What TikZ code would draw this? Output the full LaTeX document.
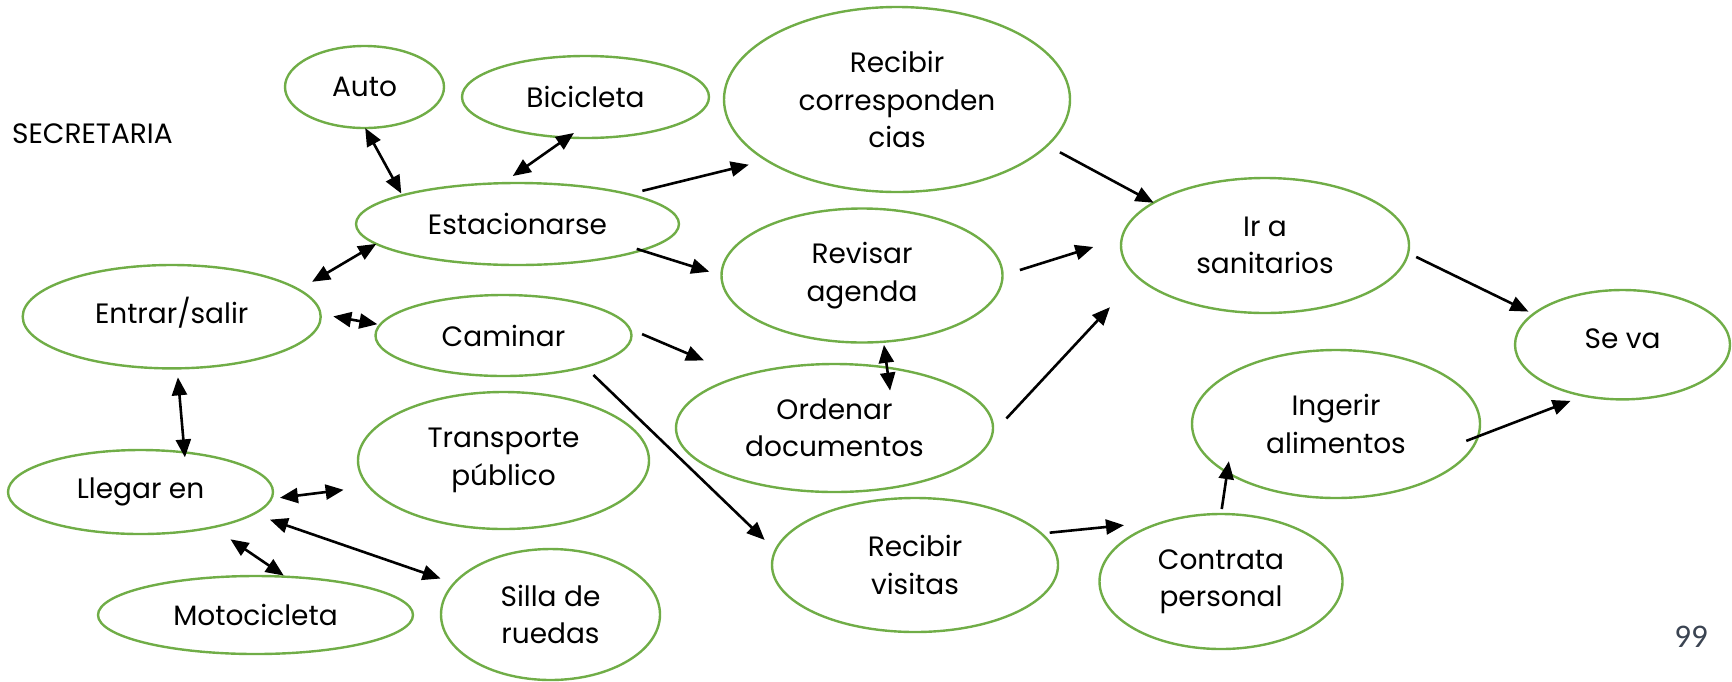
\documentclass[tikz,border=0pt]{standalone}
\usepackage{fontspec}
\setmainfont{Poppins}
\newfontfamily\pagefont{Carlito}
\usepackage{tikz}
\usetikzlibrary{shapes.geometric,arrows.meta}
\definecolor{actgreen}{RGB}{112,173,71}
\definecolor{pagegray}{RGB}{59,68,82}
\newcommand{\actfont}{\fontsize{14}{18.75}\selectfont}

\begin{document}
\begin{tikzpicture}[x=0.5pt, y=-0.5pt,
    act/.style={ellipse, draw=actgreen, line width=1.2pt, inner sep=0pt, outer sep=0pt, align=center, font=\actfont},
    link/.style={line width=1.3pt, -{Triangle[length=9pt,width=7.5pt]}},
    both/.style={line width=1.3pt, {Triangle[length=9pt,width=7.5pt]}-{Triangle[length=9pt,width=7.5pt]}}]
    \useasboundingbox (0,0) rectangle (1732,681);

    \node[anchor=west, inner sep=0pt, font=\actfont] (rol) at (11.7,134) {SECRETARIA};
    \node[font=\pagefont\fontsize{16.5}{18}\selectfont, text=pagegray] (page) at (1691,637) {99};

    \node[act, minimum width=79.5pt, minimum height=41pt] (auto) at (364.5,87) {Auto};
    \node[act, minimum width=123.5pt, minimum height=41pt] (bici) at (585.5,97) {Bicicleta};
    \node[act, minimum width=173pt, minimum height=92.5pt] (corr) at (897,99.5) {Recibir\\corresponden\\cias};
    \node[act, minimum width=161.5pt, minimum height=41pt] (estac) at (517.5,224) {Estacionarse};
    \node[act, minimum width=140.5pt, minimum height=67pt] (revisar) at (862,275.5) {Revisar\\agenda};
    \node[act, minimum width=149pt, minimum height=51.7pt, text depth=6pt] (entrar) at (171.7,316.7) {Entrar/salir};
    \node[act, minimum width=128pt, minimum height=40.5pt] (caminar) at (503.5,335.5) {Caminar};
    \node[act, minimum width=158.5pt, minimum height=64pt] (ordenar) at (834.5,428) {Ordenar\\documentos};
    \node[act, minimum width=145.5pt, minimum height=68.5pt] (transp) at (503.5,460.5) {Transporte\\público};
    \node[act, minimum width=132.5pt, minimum height=42pt] (llegar) at (140.5,492) {Llegar en};
    \node[act, minimum width=157.5pt, minimum height=39pt] (moto) at (255.5,615) {Motocicleta};
    \node[act, minimum width=109.5pt, minimum height=65.5pt] (silla) at (550.5,614.5) {Silla de\\ruedas};
    \node[act, minimum width=143pt, minimum height=67pt] (visitas) at (915,565) {Recibir\\visitas};
    \node[act, minimum width=121.5pt, minimum height=67.5pt] (contrata) at (1221,581.5) {Contrata\\personal};
    \node[act, minimum width=144pt, minimum height=74pt] (ingerir) at (1336,424) {Ingerir\\alimentos};
    \node[act, minimum width=144pt, minimum height=67.5pt] (ira) at (1265,245.5) {Ir a\\sanitarios};
    \node[act, minimum width=107.5pt, minimum height=54.7pt, text depth=6pt] (seva) at (1622.5,344.7) {Se va};

    \draw[both, shorten >=1pt] (auto.-89) -- (estac.166);
    \draw[both, shorten <=-4pt, shorten >=6.2pt] (bici.-114) -- (estac.110);
    \draw[link, shorten <=7.1pt, shorten >=9.2pt] (estac.15) -- (corr.-155);
    \draw[link, shorten <=-2.4pt, shorten >=6.4pt] (estac.-12) -- (revisar.180);
    \draw[both, shorten <=7.75pt] (entrar.12) -- (estac.188);
    \draw[both, shorten <=6.5pt, shorten >=1.4pt] (entrar.1) -- (caminar.175);
    \draw[link, shorten <=6.7pt, shorten >=20.2pt] (caminar.3) -- (ordenar.151);
    \draw[link, shorten <=5.9pt, shorten >=7.5pt] (caminar.-21) -- (visitas.174);
    \draw[both, shorten <=1.6pt, shorten >=-11.6pt] (revisar.-72) -- (ordenar.49);
    \draw[link, shorten <=7.25pt] (corr.-17) -- (ira.159);
    \draw[link, shorten <=9.1pt, shorten >=15pt] (revisar.0) -- (ira.177);
    \draw[link, shorten <=10.25pt, shorten >=20.5pt] (ordenar.-2) -- (ira.-166);
    \draw[link, shorten <=4.5pt, shorten >=2.8pt] (ira.-3) -- (seva.161);
    \draw[link, shorten <=-6.25pt, shorten >=7.2pt] (ingerir.-5) -- (seva.-127);
    \draw[link, shorten <=4.25pt, shorten >=22.2pt] (visitas.14) -- (contrata.131);
    \draw[link, shorten <=2.5pt, shorten >=-5.7pt] (contrata.90) -- (ingerir.-156);
    \draw[both, shorten <=4.5pt, shorten >=-2.5pt] (entrar.-84) -- (llegar.42);
    \draw[both, shorten <=4.4pt, shorten >=12.8pt] (llegar.-3) -- (transp.-169);
    \draw[both, shorten <=8.7pt, shorten >=7.25pt] (llegar.-11) -- (silla.162);
    \draw[both, shorten <=10.75pt, shorten >=1pt] (llegar.-26) -- (moto.52);
\end{tikzpicture}
\end{document}
